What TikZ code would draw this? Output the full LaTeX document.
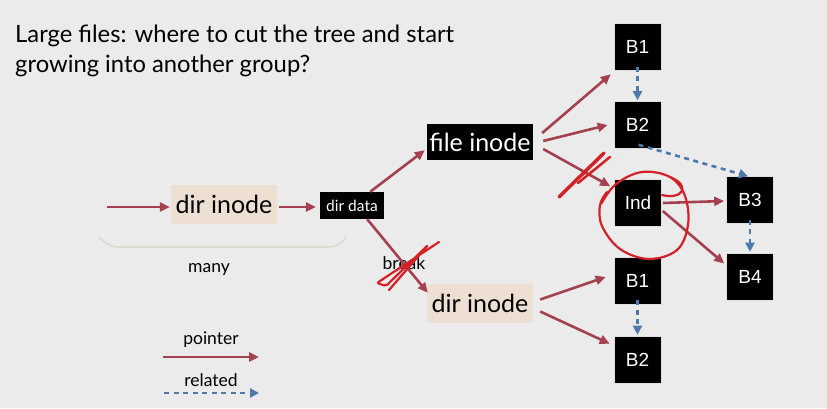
\documentclass[tikz,border=0pt]{standalone}
\usepackage{fontspec}
\setmainfont{Lato}
\newfontfamily\arialfont{Liberation Sans}
\usetikzlibrary{arrows.meta,calc}
\definecolor{bg}{HTML}{EBEBEB}
\definecolor{ptr}{HTML}{A5414F}
\definecolor{rel}{HTML}{4C7AAB}
\definecolor{beige}{HTML}{EDDFD2}
\definecolor{scrib}{HTML}{D42027}
\definecolor{bracecol}{HTML}{DDDAD0}
\begin{document}
\begin{tikzpicture}[x=1pt,y=-1pt,
 ptrarrow/.style={draw=ptr,line width=2.6pt,-{Triangle[length=10pt,width=9pt]}},
 relarrow/.style={draw=rel,line width=2.6pt,dash pattern=on 5pt off 4.5pt,-{Triangle[length=9pt,width=9pt]}},
 blk/.style={fill=black,text=white,font=\arialfont\fontsize{19}{21}\selectfont,minimum width=47pt,minimum height=47pt,inner sep=0pt,draw=white!75!gray,line width=0.6pt},
 bigblk/.style={fill=black,text=white,font=\fontsize{25}{28}\selectfont,minimum width=106pt,minimum height=36pt,inner sep=0pt},
 beigebox/.style={fill=beige,font=\fontsize{25}{28}\selectfont,minimum width=106pt,minimum height=39pt,inner sep=0pt},
 label/.style={font=\fontsize{17.5}{20}\selectfont,inner sep=0pt},
 scribble/.style={draw=scrib,line width=2.2pt,line cap=round,line join=round}]
\fill[bg] (0,0) rectangle (827,408);
\useasboundingbox (0,0) rectangle (827,408);
% title
\node[anchor=base west,align=left,font=\fontsize{23.8}{30}\selectfont,inner sep=0pt] (title) at (15,72)
 {Large files: where to cut the tree and start\\growing into another group?};
% nodes
\node[beigebox] (di1) at (224,204) {dir inode};
\node[fill=black,text=white,font=\fontsize{15.5}{17}\selectfont,minimum width=64pt,minimum height=27pt,inner sep=0pt] (dd) at (352,205.5) {dir data};
\node[bigblk] (fi) at (480,142) {file inode};
\node[beigebox] (di2) at (480,303.5) {dir inode};
\node[blk] (b1a) at (637.5,47) {B1};
\node[blk] (b2a) at (637.5,125) {B2};
\node[blk] (ind) at (638,203) {Ind};
\node[blk] (b3) at (750,200) {B3};
\node[blk] (b4) at (750,276.5) {B4};
\node[blk] (b1b) at (637.5,280.5) {B1};
\node[blk] (b2b) at (637.5,359.5) {B2};
% brace and labels
\draw[bracecol,line width=1.6pt,rounded corners=7pt] (99,237) -- (110,247) -- (336,247) -- (347,237);
\node[label] (many) at (209,269) {many};
\node[label] (brk) at (404,263) {break};
\node[label] (lp) at (211,340) {pointer};
\node[label] (lr) at (211,380) {related};
% pointer arrows
\coordinate (in) at (107,207);
\draw[ptrarrow] (in) -- ([shift={(-1,0)}]di1.west |- in);
\draw[ptrarrow] ([shift={(2,3)}]di1.east) -- ([shift={(-4,1.5)}]dd.west);
\draw[ptrarrow] ([shift={(-14,0)}]dd.north east) -- ([shift={(-2,-10)}]fi.south west);
\draw[ptrarrow] ([shift={(-17,0)}]dd.south east) -- ([shift={(1,9)}]di2.north west);
\draw[ptrarrow] ([shift={(9,-9)}]fi.east) -- ([shift={(-3,3.5)}]b1a.south west);
\draw[ptrarrow] ([shift={(10,-1)}]fi.east) -- ([shift={(-6,0)}]b2a.west);
\draw[ptrarrow] ([shift={(10,7)}]fi.east) -- ([shift={(-4,7)}]ind.north west);
\draw[ptrarrow] ([shift={(1,0)}]ind.east) -- ([shift={(-2,1)}]b3.west);
\draw[ptrarrow] ([shift={(1,8)}]ind.east) -- ([shift={(-2,-13)}]b4.west);
\draw[ptrarrow] ([shift={(7,-4)}]di2.east) -- ([shift={(-8,-3.5)}]b1b.west);
\draw[ptrarrow] ([shift={(7,8)}]di2.east) -- ([shift={(-4,8)}]b2b.north west);
% related arrows
\draw[relarrow] ([shift={(0,-4)}]b1a.south) -- ([shift={(0,-1)}]b2a.north);
\draw[relarrow] ([shift={(1,-4)}]b2a.south) -- ([shift={(-2,0)}]b3.north);
\draw[relarrow] ([shift={(0,-4)}]b3.south) -- ([shift={(0,-1)}]b4.north);
\draw[relarrow] ([shift={(0,-4)}]b1b.south) -- ([shift={(0,-1)}]b2b.north);
% legend
\coordinate (lp1) at (163,357); \coordinate (lp2) at (259,357);
\coordinate (lr1) at (164,393); \coordinate (lr2) at (259,393);
\draw[ptrarrow] (lp1) -- (lp2);
\draw[relarrow] (lr1) -- (lr2);
% scribbles
\draw[scribble,rounded corners=2pt] (439,242) -- (377,283) -- (386,286) -- (428,245) -- (389,290);
\draw[scribble,line width=3.5pt] (604,153) -- (559,197);
\draw[scribble,line width=2.5pt] (610,157) -- (578,183);
\draw[scribble] plot[smooth,tension=0.6] coordinates {(601,204) (616,184) (642,172) (670,177) (685,196) (688,225) (677,250) (649,259) (620,249) (602,226) (600,205) (607,192)};
\draw[scribble] (670,177) .. controls (692,186) and (682,200) .. (662,195);
\end{tikzpicture}
\end{document}
